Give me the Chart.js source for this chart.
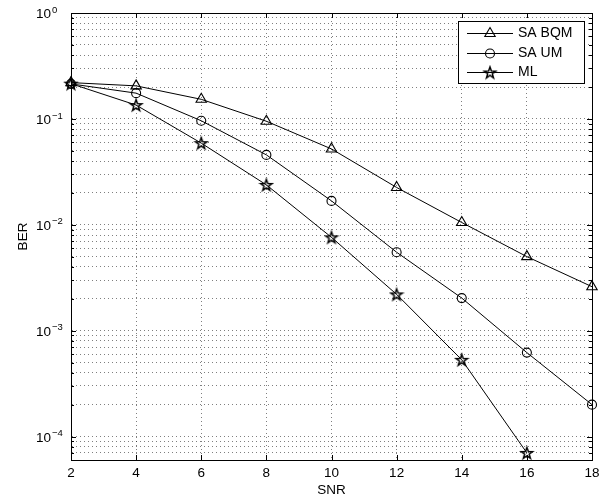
<!DOCTYPE html>
<html>
<head>
<meta charset="utf-8">
<script src="https://cdn.jsdelivr.net/npm/chart.js@4.4.1/dist/chart.umd.min.js"></script>
<style>
html, body { margin: 0; padding: 0; background: #fff; }
canvas { display: block; }
</style>
</head>
<body>
<canvas id="berChart" width="613" height="499"></canvas>
<script>
// SNR on the x axis
const snr = [2, 4, 6, 8, 10, 12, 14, 16, 18];
// BER values
const saBqm = [0.22, 0.205, 0.153, 0.095, 0.052, 0.0225, 0.0105, 0.0050, 0.0026];
const saUm = [0.214, 0.175, 0.096, 0.0457, 0.0168, 0.0055, 0.00203, 0.00062, 0.0002];
const ml = [0.215, 0.135, 0.059, 0.0238, 0.0076, 0.0022, 0.00053, 0.00007];

const seriesNames = ["SA BQM", "SA UM", "ML"];
const xTicks = [2, 4, 6, 8, 10, 12, 14, 16, 18];
const yDecades = [1, 0.1, 0.01, 0.001, 0.0001];
const yExponents = ["0", "−1", "−2", "−3", "−4"];
const yMin = 6e-5, yMax = 1;

const FONT = "'Liberation Sans', Arial, Helvetica, sans-serif";

// minor log grid: 1..9 in every decade (one more decade below for 6e-5..9e-5)
const yGrid = [];
yDecades.concat([0.00001]).forEach(d => {
    for (let k = 1; k <= 9; k++) {
        const v = d * k;
        if (v >= yMin * 0.999 && v <= yMax * 1.001) yGrid.push(v);
    }
});
yGrid.sort((a, b) => a - b);

function isDecade(v) {
    const l = Math.log10(v);
    return Math.abs(l - Math.round(l)) < 1e-6;
}

// pentagram marker like matlab 'p'
function makeStar(r) {
    const size = Math.ceil(r * 2 + 4);
    const c = document.createElement("canvas");
    c.width = size;
    c.height = size;
    const g = c.getContext("2d");
    g.translate(size / 2, size / 2 + 0.5);
    g.beginPath();
    for (let i = 0; i < 10; i++) {
        const rad = i % 2 === 0 ? r : r * 0.4;
        const a = -Math.PI / 2 + i * Math.PI / 5;
        const px = rad * Math.cos(a), py = rad * Math.sin(a);
        if (i === 0) g.moveTo(px, py); else g.lineTo(px, py);
    }
    g.closePath();
    g.lineWidth = 1.5;
    g.strokeStyle = "#000";
    g.stroke();
    return c;
}
const starImg = makeStar(6);

function pts(ys) {
    return ys.map((y, i) => ({ x: snr[i], y: y }));
}

const markerStyles = [
    { pointStyle: "triangle", radius: 6 },
    { pointStyle: "circle", radius: 4.5 },
    { pointStyle: starImg, radius: 5 }
];

const seriesData = [saBqm, saUm, ml];
const datasets = seriesData.map((ys, i) => ({
    label: seriesNames[i],
    data: pts(ys),
    borderColor: "#000",
    borderWidth: 1,
    pointStyle: markerStyles[i].pointStyle,
    pointRadius: markerStyles[i].radius,
    pointBorderWidth: 1.1,
    pointBorderColor: "#000",
    pointBackgroundColor: "rgba(0,0,0,0)",
    tension: 0,
    clip: false
}));

// box, inner ticks, exponents and legend drawn on top of chart.js
const matlabLook = {
    id: "matlabLook",
    beforeDatasetsDraw(chart) {
        const { ctx, chartArea: a, scales: { x, y } } = chart;
        ctx.save();
        ctx.strokeStyle = "#000";
        ctx.lineWidth = 1;
        ctx.beginPath();
        xTicks.forEach(t => {
            const px = Math.round(x.getPixelForValue(t)) + 0.5;
            ctx.moveTo(px, a.bottom); ctx.lineTo(px, a.bottom - 5);
            ctx.moveTo(px, a.top); ctx.lineTo(px, a.top + 5);
        });
        yGrid.forEach(v => {
            const py = Math.round(y.getPixelForValue(v)) + 0.5;
            const len = isDecade(v) ? 5 : 3;
            ctx.moveTo(a.left, py); ctx.lineTo(a.left + len, py);
            ctx.moveTo(a.right, py); ctx.lineTo(a.right - len, py);
        });
        ctx.stroke();
        ctx.strokeRect(Math.round(a.left) + 0.5, Math.round(a.top) + 0.5,
            Math.round(a.right - a.left), Math.round(a.bottom - a.top));
        ctx.restore();
    },
    afterDraw(chart) {
        const { ctx, scales: { y } } = chart;
        ctx.save();
        ctx.fillStyle = "#000";
        // exponents of the y tick labels
        ctx.font = "9.5px " + FONT;
        ctx.textAlign = "left";
        ctx.textBaseline = "middle";
        yDecades.forEach((d, i) => {
            const py = y.getPixelForValue(d);
            ctx.fillText(yExponents[i], 52, py - 3);
        });

        // legend box
        const lx = 458, ly = 21, lw = 126, lh = 62;
        ctx.fillStyle = "#fff";
        ctx.fillRect(lx, ly, lw, lh);
        ctx.strokeStyle = "#000";
        ctx.lineWidth = 1;
        ctx.strokeRect(lx + 0.5, ly + 0.5, lw, lh);
        const rows = [33, 52.5, 72];
        ctx.font = "14px " + FONT;
        ctx.textAlign = "left";
        ctx.textBaseline = "middle";
        datasets.forEach((ds, i) => {
            const ry = rows[i];
            ctx.strokeStyle = "#000";
            ctx.lineWidth = 1;
            ctx.beginPath();
            ctx.moveTo(467, Math.round(ry) + 0.5);
            ctx.lineTo(513, Math.round(ry) + 0.5);
            ctx.stroke();
            ctx.fillStyle = "rgba(0,0,0,0)";
            ctx.lineWidth = 1.1;
            Chart.helpers.drawPoint(ctx, {
                pointStyle: ds.pointStyle,
                radius: ds.pointRadius,
                rotation: 0,
                borderWidth: 1.1
            }, 490, Math.round(ry) + 0.5);
            ctx.fillStyle = "#000";
            ctx.fillText(ds.label, 518, ry + 0.5);
        });
        ctx.restore();
    }
};

const ctx = document.getElementById("berChart").getContext("2d");
new Chart(ctx, {
    type: "line",
    data: { datasets: datasets },
    plugins: [matlabLook],
    options: {
        responsive: false,
        animation: false,
        devicePixelRatio: 1,
        layout: { padding: { left: 0, top: 13, right: 21, bottom: 0 } },
        plugins: {
            legend: { display: false },
            tooltip: { enabled: false }
        },
        scales: {
            x: {
                type: "linear",
                min: 2,
                max: 18,
                afterBuildTicks: s => { s.ticks = xTicks.map(v => ({ value: v })); },
                afterFit: s => {
                    s.height = 39;
                    s.paddingLeft = 0;
                    s.paddingRight = 0;
                },
                ticks: {
                    autoSkip: false,
                    maxRotation: 0,
                    padding: 5,
                    color: "#000",
                    font: { family: FONT, size: 13.5 }
                },
                grid: { color: "rgba(0,0,0,0.5)", drawTicks: false },
                border: { color: "#000", dash: [1, 3] },
                title: {
                    display: true,
                    text: "SNR",
                    color: "#000",
                    font: { family: FONT, size: 13.5 },
                    padding: { top: 0, bottom: 1 }
                }
            },
            y: {
                type: "logarithmic",
                min: yMin,
                max: yMax,
                afterBuildTicks: s => { s.ticks = yGrid.map(v => ({ value: v })); },
                afterFit: s => {
                    s.width = 71;
                    s.paddingTop = 0;
                    s.paddingBottom = 0;
                },
                ticks: {
                    autoSkip: false,
                    padding: 20,
                    labelOffset: 1.5,
                    color: "#000",
                    font: { family: FONT, size: 13.5 },
                    callback: v => (isDecade(v) ? "10" : "")
                },
                grid: { color: "rgba(0,0,0,0.5)", drawTicks: false },
                border: { color: "#000", dash: [1, 3] },
                title: {
                    display: true,
                    text: "BER",
                    color: "#000",
                    font: { family: FONT, size: 13.5 },
                    padding: { top: 15, bottom: 0 }
                }
            }
        }
    }
});
</script>
</body>
</html>
